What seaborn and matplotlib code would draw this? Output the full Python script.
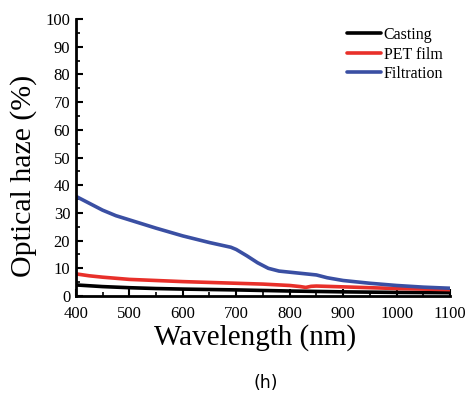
import numpy as np
import pandas as pd
import matplotlib
matplotlib.use("Agg")
import matplotlib.pyplot as plt
from matplotlib.ticker import MultipleLocator
import seaborn as sns

# Data
casting_wl = [400, 450, 500, 550, 600, 650, 700, 750, 800, 850, 900, 950, 1000, 1050, 1100]
casting_haze = [4.0, 3.4, 3.0, 2.7, 2.5, 2.35, 2.2, 2.0, 1.8, 1.65, 1.5, 1.4, 1.3, 1.25, 1.2]

pet_wl = [400, 425, 450, 500, 550, 600, 650, 700, 750, 800, 820, 830, 840, 850, 900, 950, 1000, 1050, 1100]
pet_haze = [8.0, 7.3, 6.8, 6.0, 5.6, 5.2, 4.9, 4.6, 4.3, 3.8, 3.4, 3.1, 3.5, 3.6, 3.3, 3.0, 2.7, 2.5, 2.3]

filt_wl = [400, 425, 450, 475, 500, 550, 600, 650, 690, 700, 720, 740, 760, 780, 800, 830,
           850, 870, 900, 950, 1000, 1050, 1100]
filt_haze = [36.0, 33.5, 31.0, 29.0, 27.5, 24.5, 21.7, 19.3, 17.6, 16.8, 14.5, 12.0, 10.0, 9.0,
             8.6, 8.0, 7.6, 6.6, 5.6, 4.6, 3.8, 3.2, 2.8]

series_names = ["Casting", "PET film", "Filtration"]
series_colors = ["#000000", "#e8302a", "#3a4fa3"]

xticks = [400, 500, 600, 700, 800, 900, 1000, 1100]
yticks = [0, 10, 20, 30, 40, 50, 60, 70, 80, 90, 100]

df = pd.concat([
    pd.DataFrame({"wl": casting_wl, "haze": casting_haze, "sample": series_names[0]}),
    pd.DataFrame({"wl": pet_wl, "haze": pet_haze, "sample": series_names[1]}),
    pd.DataFrame({"wl": filt_wl, "haze": filt_haze, "sample": series_names[2]}),
], ignore_index=True)

sns.set_style("ticks")
plt.rcParams["font.family"] = ["Liberation Serif", "DejaVu Serif"]
plt.rcParams["text.color"] = "black"
plt.rcParams["axes.labelcolor"] = "black"
plt.rcParams["xtick.color"] = "black"
plt.rcParams["ytick.color"] = "black"

fig = plt.figure(figsize=(4.65, 3.96), dpi=100)
ax = fig.add_axes([0.163, 0.2525, 0.805, 0.6995])

sns.lineplot(data=df, x="wl", y="haze", hue="sample", hue_order=series_names,
             palette=series_colors, linewidth=2.6, ax=ax, legend=True)

ax.set_xlim(400, 1100)
ax.set_ylim(0, 100)
ax.set_xticks(xticks)
ax.set_yticks(yticks)
ax.xaxis.set_minor_locator(MultipleLocator(50))
ax.yaxis.set_minor_locator(MultipleLocator(5))
ax.tick_params(which="major", direction="in", length=5, width=1.5, labelsize=12, color="black")
ax.tick_params(axis="x", which="major", pad=7)
ax.tick_params(axis="y", which="major", pad=4)
ax.tick_params(which="minor", direction="in", length=3, width=1.2, color="black")
for s in ["top", "right"]:
    ax.spines[s].set_visible(False)
for s in ["left", "bottom"]:
    ax.spines[s].set_linewidth(2.0)
    ax.spines[s].set_color("black")

ax.set_xlabel("Wavelength (nm)", fontsize=21)
ax.set_ylabel("Optical haze (%)", fontsize=21.5)
ax.xaxis.set_label_coords(0.479, -0.102)
ax.yaxis.set_label_coords(-0.104, 0.433)

leg = ax.legend(loc="upper right", bbox_to_anchor=(1.02, 1.023), frameon=False, fontsize=11.5,
                handlelength=2.1, handletextpad=0.2, labelspacing=0.22)
for line in leg.get_lines():
    line.set_linewidth(2.6)

fig.text(0.572, 0.01, "(h)", fontsize=12.5, family="DejaVu Sans", ha="center", va="bottom")

fig.savefig("out.png", dpi=100)
